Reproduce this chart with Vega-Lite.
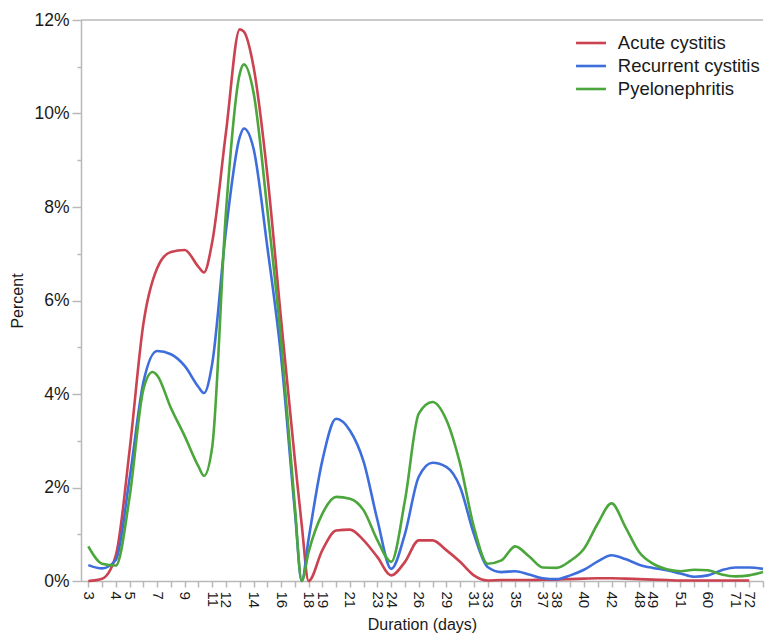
{
  "$schema": "https://vega.github.io/schema/vega-lite/v6.json",
  "width": 682,
  "height": 561,
  "autosize": "none",
  "padding": {"left": 81, "top": 20, "right": 3, "bottom": 56},
  "config": {"view": {"stroke": null}, "font": "Liberation Sans"},
  "datasets": {
    "curves": [
      {"pos": 0, "series": "Acute cystitis", "pct": 0},
      {"pos": 1, "series": "Acute cystitis", "pct": 0.05},
      {"pos": 2, "series": "Acute cystitis", "pct": 0.55},
      {"pos": 3, "series": "Acute cystitis", "pct": 2.8},
      {"pos": 4, "series": "Acute cystitis", "pct": 5.5},
      {"pos": 5, "series": "Acute cystitis", "pct": 6.69},
      {"pos": 6, "series": "Acute cystitis", "pct": 7.04},
      {"pos": 7, "series": "Acute cystitis", "pct": 7.08},
      {"pos": 8, "series": "Acute cystitis", "pct": 6.72},
      {"pos": 8.4, "series": "Acute cystitis", "pct": 6.6},
      {"pos": 9, "series": "Acute cystitis", "pct": 7.25},
      {"pos": 10, "series": "Acute cystitis", "pct": 9.6},
      {"pos": 11, "series": "Acute cystitis", "pct": 11.8},
      {"pos": 11.3, "series": "Acute cystitis", "pct": 11.75},
      {"pos": 12, "series": "Acute cystitis", "pct": 11.0},
      {"pos": 13, "series": "Acute cystitis", "pct": 8.7},
      {"pos": 14, "series": "Acute cystitis", "pct": 5.6},
      {"pos": 15, "series": "Acute cystitis", "pct": 2.6},
      {"pos": 15.5, "series": "Acute cystitis", "pct": 1.2},
      {"pos": 16, "series": "Acute cystitis", "pct": 0},
      {"pos": 17, "series": "Acute cystitis", "pct": 0.66},
      {"pos": 18, "series": "Acute cystitis", "pct": 1.08},
      {"pos": 19, "series": "Acute cystitis", "pct": 1.1},
      {"pos": 20, "series": "Acute cystitis", "pct": 0.87},
      {"pos": 21, "series": "Acute cystitis", "pct": 0.51},
      {"pos": 22, "series": "Acute cystitis", "pct": 0.12},
      {"pos": 23, "series": "Acute cystitis", "pct": 0.41},
      {"pos": 24, "series": "Acute cystitis", "pct": 0.87},
      {"pos": 25, "series": "Acute cystitis", "pct": 0.87},
      {"pos": 26, "series": "Acute cystitis", "pct": 0.66},
      {"pos": 27, "series": "Acute cystitis", "pct": 0.41},
      {"pos": 28, "series": "Acute cystitis", "pct": 0.12},
      {"pos": 29, "series": "Acute cystitis", "pct": 0.01},
      {"pos": 30, "series": "Acute cystitis", "pct": 0.02},
      {"pos": 31, "series": "Acute cystitis", "pct": 0.02},
      {"pos": 32, "series": "Acute cystitis", "pct": 0.02},
      {"pos": 33, "series": "Acute cystitis", "pct": 0.03},
      {"pos": 34, "series": "Acute cystitis", "pct": 0.03},
      {"pos": 35, "series": "Acute cystitis", "pct": 0.04},
      {"pos": 36, "series": "Acute cystitis", "pct": 0.05},
      {"pos": 37, "series": "Acute cystitis", "pct": 0.06},
      {"pos": 38, "series": "Acute cystitis", "pct": 0.06},
      {"pos": 39, "series": "Acute cystitis", "pct": 0.05},
      {"pos": 40, "series": "Acute cystitis", "pct": 0.04},
      {"pos": 41, "series": "Acute cystitis", "pct": 0.03},
      {"pos": 42, "series": "Acute cystitis", "pct": 0.02},
      {"pos": 43, "series": "Acute cystitis", "pct": 0.01},
      {"pos": 44, "series": "Acute cystitis", "pct": 0.01},
      {"pos": 45, "series": "Acute cystitis", "pct": 0.01},
      {"pos": 46, "series": "Acute cystitis", "pct": 0.01},
      {"pos": 47, "series": "Acute cystitis", "pct": 0.01},
      {"pos": 48, "series": "Acute cystitis", "pct": 0.01},
      {"pos": 0, "series": "Recurrent cystitis", "pct": 0.34},
      {"pos": 1, "series": "Recurrent cystitis", "pct": 0.27},
      {"pos": 2, "series": "Recurrent cystitis", "pct": 0.45},
      {"pos": 3, "series": "Recurrent cystitis", "pct": 2.2},
      {"pos": 4, "series": "Recurrent cystitis", "pct": 4.25},
      {"pos": 5, "series": "Recurrent cystitis", "pct": 4.92},
      {"pos": 6, "series": "Recurrent cystitis", "pct": 4.85},
      {"pos": 7, "series": "Recurrent cystitis", "pct": 4.6},
      {"pos": 8, "series": "Recurrent cystitis", "pct": 4.15},
      {"pos": 8.4, "series": "Recurrent cystitis", "pct": 4.02},
      {"pos": 9, "series": "Recurrent cystitis", "pct": 4.65},
      {"pos": 10, "series": "Recurrent cystitis", "pct": 7.5},
      {"pos": 11, "series": "Recurrent cystitis", "pct": 9.5},
      {"pos": 11.3, "series": "Recurrent cystitis", "pct": 9.68},
      {"pos": 12, "series": "Recurrent cystitis", "pct": 9.25},
      {"pos": 13, "series": "Recurrent cystitis", "pct": 7.15},
      {"pos": 14, "series": "Recurrent cystitis", "pct": 4.8},
      {"pos": 15, "series": "Recurrent cystitis", "pct": 1.5},
      {"pos": 15.5, "series": "Recurrent cystitis", "pct": 0},
      {"pos": 16, "series": "Recurrent cystitis", "pct": 0.9},
      {"pos": 17, "series": "Recurrent cystitis", "pct": 2.58},
      {"pos": 18, "series": "Recurrent cystitis", "pct": 3.47},
      {"pos": 19, "series": "Recurrent cystitis", "pct": 3.22},
      {"pos": 20, "series": "Recurrent cystitis", "pct": 2.55},
      {"pos": 21, "series": "Recurrent cystitis", "pct": 1.3},
      {"pos": 22, "series": "Recurrent cystitis", "pct": 0.26},
      {"pos": 23, "series": "Recurrent cystitis", "pct": 1.01},
      {"pos": 24, "series": "Recurrent cystitis", "pct": 2.23},
      {"pos": 25, "series": "Recurrent cystitis", "pct": 2.53},
      {"pos": 26, "series": "Recurrent cystitis", "pct": 2.44},
      {"pos": 27, "series": "Recurrent cystitis", "pct": 2.01},
      {"pos": 28, "series": "Recurrent cystitis", "pct": 1.01},
      {"pos": 29, "series": "Recurrent cystitis", "pct": 0.3},
      {"pos": 30, "series": "Recurrent cystitis", "pct": 0.19},
      {"pos": 31, "series": "Recurrent cystitis", "pct": 0.21},
      {"pos": 32, "series": "Recurrent cystitis", "pct": 0.14},
      {"pos": 33, "series": "Recurrent cystitis", "pct": 0.06},
      {"pos": 34, "series": "Recurrent cystitis", "pct": 0.04},
      {"pos": 35, "series": "Recurrent cystitis", "pct": 0.12},
      {"pos": 36, "series": "Recurrent cystitis", "pct": 0.24},
      {"pos": 37, "series": "Recurrent cystitis", "pct": 0.42},
      {"pos": 38, "series": "Recurrent cystitis", "pct": 0.55},
      {"pos": 39, "series": "Recurrent cystitis", "pct": 0.47},
      {"pos": 40, "series": "Recurrent cystitis", "pct": 0.35},
      {"pos": 41, "series": "Recurrent cystitis", "pct": 0.28},
      {"pos": 42, "series": "Recurrent cystitis", "pct": 0.23},
      {"pos": 43, "series": "Recurrent cystitis", "pct": 0.16},
      {"pos": 44, "series": "Recurrent cystitis", "pct": 0.09},
      {"pos": 45, "series": "Recurrent cystitis", "pct": 0.12},
      {"pos": 46, "series": "Recurrent cystitis", "pct": 0.23},
      {"pos": 47, "series": "Recurrent cystitis", "pct": 0.29},
      {"pos": 48, "series": "Recurrent cystitis", "pct": 0.29},
      {"pos": 49, "series": "Recurrent cystitis", "pct": 0.26},
      {"pos": 0, "series": "Pyelonephritis", "pct": 0.74},
      {"pos": 1, "series": "Pyelonephritis", "pct": 0.37},
      {"pos": 2, "series": "Pyelonephritis", "pct": 0.33},
      {"pos": 3, "series": "Pyelonephritis", "pct": 1.8},
      {"pos": 4, "series": "Pyelonephritis", "pct": 4.1},
      {"pos": 4.67, "series": "Pyelonephritis", "pct": 4.47},
      {"pos": 5, "series": "Pyelonephritis", "pct": 4.4},
      {"pos": 6, "series": "Pyelonephritis", "pct": 3.7},
      {"pos": 7, "series": "Pyelonephritis", "pct": 3.1},
      {"pos": 8, "series": "Pyelonephritis", "pct": 2.45},
      {"pos": 8.4, "series": "Pyelonephritis", "pct": 2.25},
      {"pos": 9, "series": "Pyelonephritis", "pct": 2.87},
      {"pos": 10, "series": "Pyelonephritis", "pct": 7.9},
      {"pos": 11, "series": "Pyelonephritis", "pct": 10.85},
      {"pos": 11.3, "series": "Pyelonephritis", "pct": 11.05},
      {"pos": 12, "series": "Pyelonephritis", "pct": 10.45},
      {"pos": 13, "series": "Pyelonephritis", "pct": 7.95},
      {"pos": 14, "series": "Pyelonephritis", "pct": 5.15},
      {"pos": 15, "series": "Pyelonephritis", "pct": 1.6},
      {"pos": 15.5, "series": "Pyelonephritis", "pct": 0},
      {"pos": 16, "series": "Pyelonephritis", "pct": 0.62},
      {"pos": 17, "series": "Pyelonephritis", "pct": 1.44},
      {"pos": 18, "series": "Pyelonephritis", "pct": 1.8},
      {"pos": 19, "series": "Pyelonephritis", "pct": 1.76},
      {"pos": 20, "series": "Pyelonephritis", "pct": 1.51},
      {"pos": 21, "series": "Pyelonephritis", "pct": 0.87},
      {"pos": 22, "series": "Pyelonephritis", "pct": 0.41},
      {"pos": 23, "series": "Pyelonephritis", "pct": 1.73},
      {"pos": 24, "series": "Pyelonephritis", "pct": 3.58},
      {"pos": 25, "series": "Pyelonephritis", "pct": 3.83},
      {"pos": 26, "series": "Pyelonephritis", "pct": 3.45},
      {"pos": 27, "series": "Pyelonephritis", "pct": 2.51},
      {"pos": 28, "series": "Pyelonephritis", "pct": 1.16},
      {"pos": 29, "series": "Pyelonephritis", "pct": 0.37},
      {"pos": 30, "series": "Pyelonephritis", "pct": 0.44},
      {"pos": 31, "series": "Pyelonephritis", "pct": 0.74},
      {"pos": 32, "series": "Pyelonephritis", "pct": 0.53},
      {"pos": 33, "series": "Pyelonephritis", "pct": 0.29},
      {"pos": 34, "series": "Pyelonephritis", "pct": 0.28},
      {"pos": 35, "series": "Pyelonephritis", "pct": 0.43},
      {"pos": 36, "series": "Pyelonephritis", "pct": 0.69},
      {"pos": 37, "series": "Pyelonephritis", "pct": 1.23},
      {"pos": 38, "series": "Pyelonephritis", "pct": 1.66},
      {"pos": 39, "series": "Pyelonephritis", "pct": 1.16},
      {"pos": 40, "series": "Pyelonephritis", "pct": 0.62},
      {"pos": 41, "series": "Pyelonephritis", "pct": 0.37},
      {"pos": 42, "series": "Pyelonephritis", "pct": 0.25},
      {"pos": 43, "series": "Pyelonephritis", "pct": 0.21},
      {"pos": 44, "series": "Pyelonephritis", "pct": 0.24},
      {"pos": 45, "series": "Pyelonephritis", "pct": 0.23},
      {"pos": 46, "series": "Pyelonephritis", "pct": 0.14},
      {"pos": 47, "series": "Pyelonephritis", "pct": 0.1},
      {"pos": 48, "series": "Pyelonephritis", "pct": 0.12},
      {"pos": 49, "series": "Pyelonephritis", "pct": 0.19}
    ]
  },
  "layer": [
    {
      "data": {"values": [{"top": 12}]},
      "mark": {"type": "rule", "color": "#b8b8b8", "strokeWidth": 1.5},
      "encoding": {"y": {"field": "top", "type": "quantitative"}}
    },
    {
      "data": {"name": "curves"},
      "mark": {"type": "line", "interpolate": "monotone", "strokeWidth": 2.6},
      "encoding": {
        "x": {
          "field": "pos",
          "type": "quantitative",
          "scale": {"domain": [-0.53, 49], "nice": false, "zero": false},
          "axis": {
            "title": "Duration (days)",
            "values": [0,1,2,3,4,5,6,7,8,9,10,11,12,13,14,15,16,17,18,19,20,21,22,23,24,25,26,27,28,29,30,31,32,33,34,35,36,37,38,39,40,41,42,43,44,45,46,47,48,49],
            "labelExpr": "['3','','4','5','','7','','9','','11','12','','14','','16','','18','19','','21','','23','24','','26','','29','','31','33','','35','','37','38','','40','','42','','48','49','','51','','60','','71','72',''][datum.value]",
            "labelAngle": 90,
            "labelOverlap": false,
            "labelFlush": false,
            "labelFontSize": 15,
            "labelColor": "#1a1a1a",
            "labelPadding": 4,
            "tickSize": 6,
            "tickColor": "#b8b8b8",
            "tickWidth": 1.5,
            "domainColor": "#b8b8b8",
            "domainWidth": 1.5,
            "grid": false,
            "titleFontSize": 16,
            "titleFontWeight": "normal",
            "titleColor": "#1a1a1a",
            "titlePadding": 9
          }
        },
        "y": {
          "field": "pct",
          "type": "quantitative",
          "scale": {"domain": [0, 12], "nice": false},
          "axis": {
            "title": "Percent",
            "values": [0,1,2,3,4,5,6,7,8,9,10,11,12],
            "labelExpr": "datum.value % 2 === 0 ? datum.value + '%' : ''",
            "tickSize": {"condition": {"test": "datum.value % 2 === 0", "value": 9}, "value": 4},
            "labelFontSize": 17.5,
            "labelColor": "#1a1a1a",
            "labelPadding": 3,
            "tickColor": "#b8b8b8",
            "tickWidth": 1.5,
            "domainColor": "#b8b8b8",
            "domainWidth": 1.5,
            "grid": false,
            "titleFontSize": 16,
            "titleFontWeight": "normal",
            "titleColor": "#1a1a1a",
            "titlePadding": 8
          }
        },
        "color": {
          "field": "series",
          "type": "nominal",
          "scale": {
            "domain": ["Acute cystitis", "Recurrent cystitis", "Pyelonephritis"],
            "range": ["#CB4250", "#3E6EDC", "#4BA63C"]
          },
          "legend": {
            "title": null,
            "orient": "none",
            "legendX": 497,
            "legendY": 10,
            "padding": 0,
            "symbolType": "M-1.3,0H1.3",
            "symbolSize": 529,
            "symbolStrokeWidth": 2.6,
            "labelFontSize": 18.5,
            "labelColor": "#1a1a1a",
            "labelOffset": 13.8,
            "labelLimit": 0,
            "rowPadding": 0
          }
        }
      }
    }
  ]
}
